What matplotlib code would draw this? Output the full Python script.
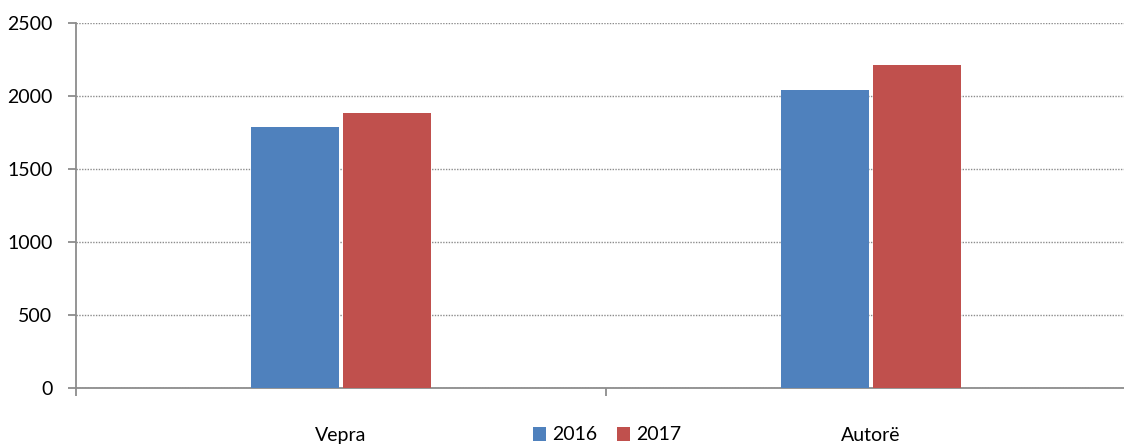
import numpy as np
import matplotlib
matplotlib.use("Agg")
import matplotlib.pyplot as plt
from matplotlib.patches import Patch

plt.rcParams['font.family'] = ['Lato', 'DejaVu Sans']

kategorite = ["Vepra", "Autorë"]
vitet = ["2016", "2017"]
vlerat_2016 = [1785, 2040]
vlerat_2017 = [1885, 2210]
ngjyrat = ["#4F81BD", "#C0504D"]

fig = plt.figure(figsize=(11.24, 4.45), dpi=100)
ax = fig.add_axes([0.0676, 0.128, 1.0107 - 0.0676, 0.949 - 0.128])

x = np.arange(len(kategorite)) + 0.5
w = 0.166
ax.bar(x - 0.086, vlerat_2016, width=w, color=ngjyrat[0], zorder=3)
ax.bar(x + 0.086, vlerat_2017, width=w, color=ngjyrat[1], zorder=3)

ax.set_xlim(0, 2)
ax.set_ylim(0, 2500)
ax.set_yticks([0, 500, 1000, 1500, 2000, 2500])
ax.set_xticks([0, 1, 2])
ax.set_xticklabels([])
ax.yaxis.grid(True, linestyle=(0, (1, 1)), color="#8c8c8c", linewidth=1)
ax.set_axisbelow(True)

for s in ["top", "right"]:
    ax.spines[s].set_visible(False)
for s in ["left", "bottom"]:
    ax.spines[s].set_color("#8c8c8c")
    ax.spines[s].set_linewidth(1.3)
ax.tick_params(axis="y", length=6, width=1.3, color="#8c8c8c", labelsize=14, pad=11)
ax.tick_params(axis="x", length=6, width=1.3, color="#8c8c8c")

for xi, nm in zip(x, kategorite):
    ax.annotate(nm, xy=(xi, 0), xycoords=("data", "axes fraction"),
                xytext=(0, -47), textcoords="offset pixels",
                ha="center", va="center", fontsize=14)

handles = [Patch(facecolor=c, label=v) for c, v in zip(ngjyrat, vitet)]
fig.legend(handles=handles, loc="center", bbox_to_anchor=(607 / 1124, 1 - 435 / 445),
           ncol=2, frameon=False, fontsize=14, handlelength=0.7, handleheight=0.7,
           handletextpad=0.3, columnspacing=1.0, borderpad=0)

fig.savefig("out.png", dpi=100)
